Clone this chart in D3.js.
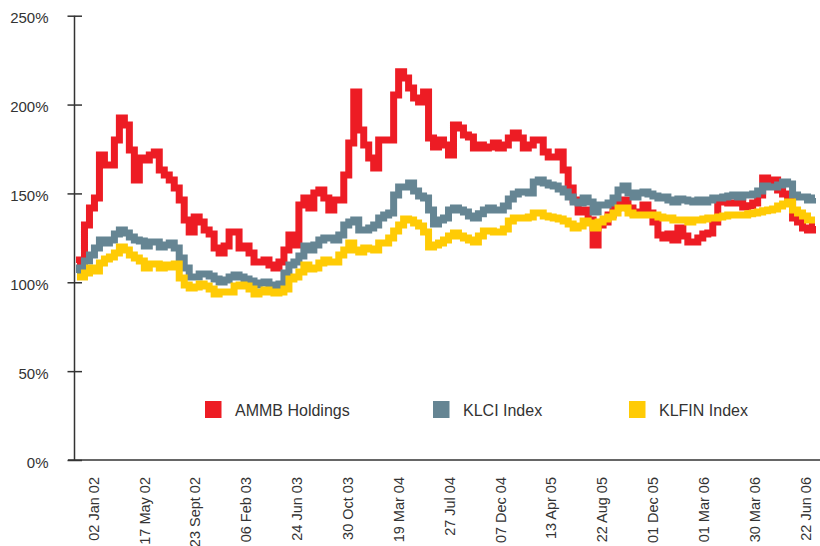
<!DOCTYPE html>
<html>
<head>
<meta charset="utf-8">
<script src="https://cdn.jsdelivr.net/npm/d3@7/dist/d3.min.js"></script>
<style>
  html, body { margin: 0; padding: 0; background: #ffffff; }
  svg { display: block; }
  text { font-family: "Liberation Sans", Arial, Helvetica, sans-serif; fill: #333333; }
</style>
</head>
<body>
<svg id="chart" width="820" height="546"></svg>
<script>
// ---------------- DATA ----------------
const xLabels = ["02 Jan 02", "17 May 02", "23 Sept 02", "06 Feb 03", "24 Jun 03", "30 Oct 03",
  "19 Mar 04", "27 Jul 04", "07 Dec 04", "13 Apr 05", "22 Aug 05", "01 Dec 05",
  "01 Mar 06", "30 Mar 06", "22 Jun 06"];

const yTicks = [0, 50, 100, 150, 200, 250];

const seriesNames = ["AMMB Holdings", "KLCI Index", "KLFIN Index"];
const seriesColors = ["#ED1C24", "#658593", "#FFCB05"];

const ammb = [
  110.9, 112.5, 132.3, 141.8, 147.4, 171.6, 166, 166, 180, 192.5,
  188.5, 174.5, 157.6, 170, 168.8, 171.6, 173.3, 163.2, 160.4, 157.6,
  153, 146.3, 135.1, 128.3, 136.7, 133.9, 129.4, 127.2, 119.3, 116.5,
  120.4, 128.3, 128.3, 119.3, 120.4, 116.5, 111.4, 111.4, 112.5, 109.7,
  108, 111.4, 118.2, 126.6, 121, 143.5, 147.4, 141.8, 150.3, 151.9,
  147.4, 140.7, 146.3, 146.3, 160.4, 178.4, 207, 185.7, 177.3, 170,
  164.3, 180, 180, 180, 205.4, 218.4, 215, 209.3, 203.7, 201.5,
  207, 181.2, 176.1, 180, 177.3, 171.6, 188.5, 186.8, 182.9, 181.8,
  175.6, 177.3, 175.6, 176.1, 178.4, 175.6, 177.3, 181.2, 184, 181.2,
  175.6, 177.3, 180, 180, 173.3, 170.5, 170.5, 173.3, 163.2, 153,
  146.3, 139.6, 140.7, 135.1, 121, 132.3, 133.9, 137.9, 141.8, 145.2,
  146.3, 141.8, 139, 139.6, 143.5, 139, 133.9, 126.6, 124.9, 127.2,
  123.8, 130.6, 126, 122.7, 122.7, 124.9, 127.2, 127.7, 133.9, 145.2,
  147.4, 144.6, 144.6, 146.3, 142.4, 143, 144.6, 149.1, 158.7, 154.8,
  157.6, 151.9, 149.7, 147.4, 136.2, 133.9, 130.6, 129.4, 131.7
];

const klci = [
  105.2, 108, 112, 115.4, 119.3, 123.8, 122.1, 123.8, 127.2, 129.4,
  127.7, 125.5, 123.8, 123.2, 120.4, 122.7, 122.7, 119.9, 121, 122.1,
  119.3, 113.7, 108, 103, 103, 104.7, 104.7, 103.6, 101.9, 100.2,
  101.3, 103, 104.1, 103, 101.9, 100.7, 98.5, 99.6, 100.2, 98.5,
  97.4, 99.1, 105.2, 109.7, 111.4, 114.8, 120.4, 118.2, 121, 123.8,
  124.9, 124.9, 123.8, 126.6, 132.3, 133.9, 135.1, 129.4, 129.4, 130.6,
  132.3, 136.2, 137.9, 139, 149.1, 153.6, 153.6, 155.9, 151.3, 148.5,
  147.4, 140.7, 132.8, 135.1, 136.2, 140.7, 141.8, 140.7, 139.6, 137.3,
  136.2, 138.5, 140.7, 141.8, 140.7, 140.7, 142.9, 146.9, 149.7, 150.8,
  150.8, 150.3, 156.4, 157.6, 155.9, 154.8, 154.2, 152.5, 150.8, 148,
  145.2, 144.6, 147.4, 145.2, 139.6, 143.5, 143.5, 144.6, 147.4, 151.9,
  154.2, 150.3, 148, 150.3, 150.8, 149.7, 148.5, 147.4, 148, 146.3,
  145.2, 146.9, 146.3, 145.7, 145.2, 146.3, 145.2, 146.3, 147.4, 147.4,
  148, 148.5, 149.1, 148, 149.1, 149.1, 149.7, 151.3, 154.2, 153.6,
  153.6, 154.8, 156.4, 155.3, 149.1, 148, 148, 146.3, 147.4
];

const klfin = [
  103, 103, 105.2, 108, 106.3, 110.9, 113.1, 114.2, 116.5, 119.9,
  118.2, 115.4, 113.7, 112, 108, 110.3, 110.3, 108, 109.7, 108.6,
  110.3, 102.4, 98.5, 96.8, 97.4, 99.1, 97.9, 96.2, 93.4, 94.5,
  94.5, 94.5, 97.9, 98.5, 97.9, 96.2, 93.4, 94.5, 95.7, 94.5,
  94, 94.5, 96.2, 101.9, 103, 105.8, 109.7, 107.5, 108, 110.9,
  112.5, 111.4, 111.4, 115.4, 118.2, 122.1, 118.2, 117, 119.3, 118.7,
  118.2, 122.1, 122.1, 124.9, 128.9, 132.3, 135.6, 135.1, 133.4, 131.7,
  128.3, 119.9, 121, 122.1, 123.8, 126, 127.7, 126, 124.9, 123.8,
  122.7, 126, 128.9, 128.9, 128.3, 128.3, 130, 134.5, 136.2, 136.2,
  136.2, 136.7, 139, 139, 137.3, 136.7, 136.2, 135.6, 134.5, 132.8,
  130.6, 131.7, 134.5, 133.4, 130.6, 133.9, 135.6, 136.7, 139, 141.8,
  141.8, 139, 137.9, 137.9, 137.9, 137.9, 137.9, 136.7, 136.2, 136.2,
  135.1, 135.1, 135.1, 133.9, 135.1, 135.1, 135.6, 136.2, 136.2, 136.7,
  137.3, 137.9, 137.9, 137.9, 137.9, 138.5, 139, 139.6, 140.2, 140.7,
  141.3, 142.9, 144.1, 145.2, 140.7, 139, 137.3, 135.1, 135.1
];

// ---------------- CHART ----------------
const svg = d3.select("#chart");
const series = [ammb, klci, klfin];

const axisX = 74.5, bottomY = 460, topY = 15.7;

const y = d3.scaleLinear().domain([0, 250]).range([bottomY, topY]);
const x = d3.scaleLinear().domain([0, ammb.length - 1]).range([77, 815]);
const xl = d3.scalePoint().domain(xLabels).range([93, 805]);

// lines (stepped, like the dense daily series in the original)
const line = d3.line().x((d, i) => x(i)).y(d => y(d)).curve(d3.curveStep);
svg.append("g").selectAll("path")
  .data(series)
  .join("path")
  .attr("d", d => line(d))
  .attr("fill", "none")
  .attr("stroke", (d, i) => seriesColors[i])
  .attr("stroke-width", 7)
  .attr("stroke-linejoin", "miter")
  .attr("stroke-linecap", "butt");

// x axis line
svg.append("line")
  .attr("x1", 68).attr("x2", 820)
  .attr("y1", bottomY).attr("y2", bottomY)
  .attr("stroke", "#666666").attr("stroke-width", 2);

// y axis
const yAxis = d3.axisLeft(y).tickValues(yTicks).tickSize(0).tickPadding(0)
  .tickFormat(d => d + "%");
const gy = svg.append("g").attr("transform", `translate(${axisX},0)`).call(yAxis);
gy.select(".domain").remove();
gy.selectAll(".tick text")
  .attr("x", -26).attr("dy", "0.48em")
  .style("font-size", "15px").style("fill", "#333333")
  .style("font-family", "'Liberation Sans', Arial, Helvetica, sans-serif");
gy.selectAll(".tick").append("line")
  .attr("x1", -7).attr("x2", 7.5)
  .attr("stroke", "#333333").attr("stroke-width", 1.5);

svg.append("line")
  .attr("x1", axisX).attr("x2", axisX)
  .attr("y1", topY).attr("y2", bottomY)
  .attr("stroke", "#333333").attr("stroke-width", 1.5);

// x axis labels
const xAxis = d3.axisBottom(xl).tickSize(0).tickPadding(0);
const gx = svg.append("g").attr("transform", `translate(0,${bottomY})`).call(xAxis);
gx.select(".domain").remove();
gx.selectAll(".tick text")
  .attr("transform", "rotate(-90)")
  .attr("x", -17).attr("y", 0).attr("dy", "0.36em")
  .attr("text-anchor", "end")
  .style("font-size", "14.5px").style("fill", "#333333")
  .style("font-family", "'Liberation Sans', Arial, Helvetica, sans-serif");

// legend
const legendX = [205, 433, 629];
const lg = svg.append("g").selectAll("g")
  .data(seriesNames)
  .join("g")
  .attr("transform", (d, i) => `translate(${legendX[i]},401)`);
lg.append("rect")
  .attr("width", 16.5).attr("height", 17)
  .attr("fill", (d, i) => seriesColors[i]);
lg.append("text")
  .attr("x", 30).attr("y", 15)
  .style("font-size", "16px")
  .text(d => d);
</script>
</body>
</html>
